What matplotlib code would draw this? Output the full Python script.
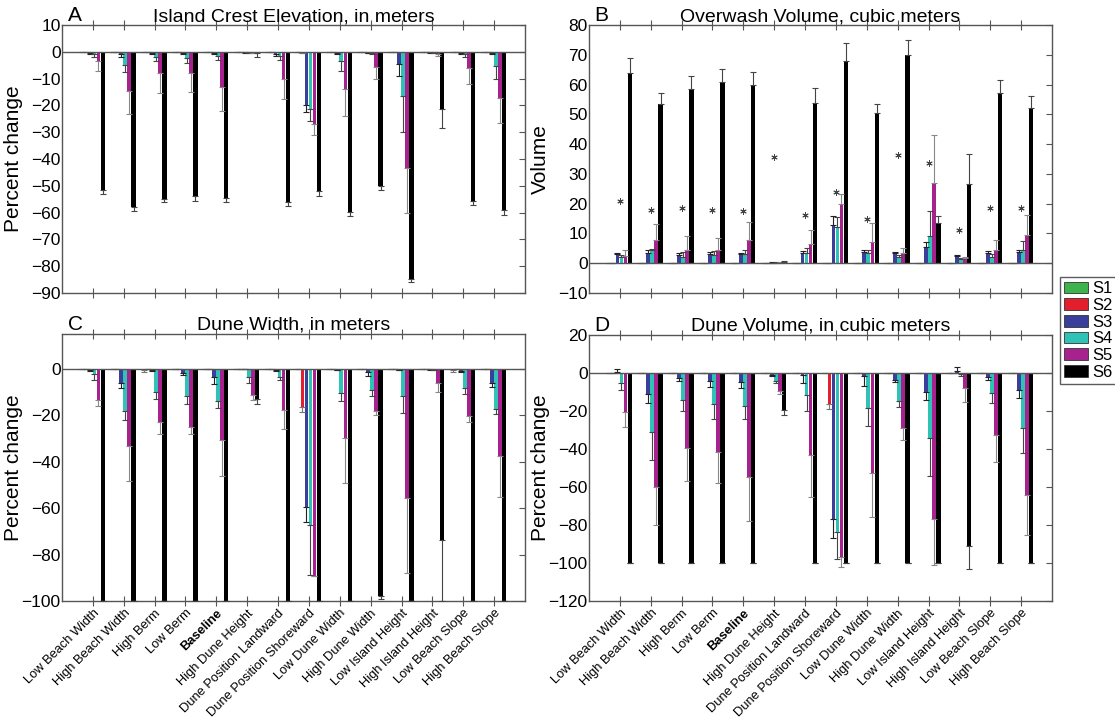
import numpy as np
import matplotlib
matplotlib.use("Agg")
import matplotlib.pyplot as plt
from matplotlib.patches import Patch

plt.rcParams['font.family'] = ['Liberation Sans', 'DejaVu Sans']

scenarios = ["Low Beach Width", "High Beach Width", "High Berm", "Low Berm",
             "Baseline", "High Dune Height", "Dune Position Landward",
             "Dune Position Shoreward", "Low Dune Width", "High Dune Width",
             "Low Island Height", "High Island Height", "Low Beach Slope",
             "High Beach Slope"]
series = ["S1", "S2", "S3", "S4", "S5", "S6"]
colors = ["#3cb44b", "#e31e2d", "#3b3f9c", "#2fc2b6", "#a8228f", "#000000"]

# island crest elevation, percent change (rows S1..S6)
crest_mean = [
    [0, 0, 0, 0, 0, 0, 0, 0, 0, 0, 0, 0, 0, 0],
    [0, 0, 0, 0, 0, 0, 0, -0.3, 0, 0, 0, 0, 0, 0],
    [-0.5, -1, -0.5, -0.5, -0.5, -0.2, -0.7, -20, -0.5, -0.3, -4.4, -0.2, -0.5, -0.5],
    [-1, -5, -2, -2.5, -1.5, -0.2, -1.5, -21.2, -3.4, -0.5, -16.5, -0.2, -1, -5.2],
    [-3.3, -14.7, -8, -8, -13, -0.3, -10.2, -27, -13.7, -5.5, -43.4, -1, -5.9, -17.1],
    [-51.5, -58, -55, -53.8, -54.5, -0.5, -56, -52, -59.9, -50, -84.6, -21.5, -55.6, -59.2],
]
crest_err = [
    [0] * 14,
    [0] * 14,
    [0.5, 1, 0.5, 0.5, 0.5, 0.3, 1, 2.5, 0.5, 0.3, 4.6, 0.3, 0.5, 0.5],
    [1, 2.5, 1.5, 1.5, 1.5, 0.3, 1.5, 4.8, 3.6, 0.5, 13.5, 0.3, 1, 4.8],
    [4, 8.5, 7.5, 7, 9, 0.3, 7.5, 4, 10.3, 4.5, 16.6, 0.5, 6, 9.4],
    [1.5, 1.5, 1.2, 1.7, 1.5, 1.5, 1.7, 1.7, 1.2, 1.5, 1.4, 7, 1.4, 1.6],
]

# overwash volume, cubic meters
overwash_mean = [
    [0] * 14,
    [0] * 14,
    [3, 3.5, 2.8, 3.2, 3, 0.2, 3.3, 12.7, 3.7, 3.5, 5.4, 2.5, 3.5, 3.8],
    [2.2, 4.3, 2.2, 2.8, 3, 0.2, 3.3, 12.1, 3.3, 2.2, 9.3, 1.5, 2.2, 4.3],
    [2.5, 7.8, 4.5, 4.5, 7.8, 0.2, 6.3, 19.8, 7.1, 3.5, 26.9, 1.6, 4.5, 9.6],
    [64, 53.5, 58.5, 60.8, 59.7, 0.3, 53.8, 68, 50.3, 69.8, 13.5, 26.5, 57, 52],
]
overwash_err = [
    [0] * 14,
    [0] * 14,
    [0.5, 1, 0.5, 0.7, 0.6, 0.1, 0.7, 3.3, 0.7, 0.3, 1.6, 0.2, 0.7, 0.5],
    [0.6, 0.5, 1.5, 1.3, 1.3, 0.1, 1.7, 3.5, 1.2, 0.5, 8.1, 0.3, 1.0, 3.2],
    [2, 5.5, 4.5, 4, 6.2, 0.1, 4.9, 3.5, 6.4, 1.5, 16.1, 0.5, 3.3, 6.6],
    [5, 3.5, 4.3, 4.5, 4.5, 0.3, 5.2, 6, 3.2, 5.2, 2.5, 10.3, 4.5, 4],
]
overwash_marks = [20.9, 17.8, 18.7, 17.8, 17.5, 35.6, 16.2, 24, 14.9, 36.2, 33.7, 11, 18.4, 18.4]

# dune width, percent change
width_mean = [
    [0, 0, -0.5, 0, 0, 0, 0, 0, 0, 0, 0, 0, -0.5, 0],
    [0, 0, 0, 0, 0, 0, 0, -16.4, 0, 0, 0, 0, 0, 0],
    [-0.5, -6.3, -0.5, -2, -3.5, 0, -0.5, -59.4, -0.3, -1.5, -0.3, -0.2, -1, -6],
    [-2.4, -18.3, -10, -11.8, -14, -3.5, -3.5, -67.3, -10.4, -9, -11.8, -0.3, -8.2, -17.3],
    [-13.5, -33.1, -23, -25, -30.8, -11.4, -17.9, -89.3, -29.8, -18, -55.5, -6, -20.2, -37.5],
    [-100, -100, -100, -100, -100, -12.8, -100, -100, -100, -98, -100, -73.8, -100, -100],
]
width_err = [
    [0, 0, 0.8, 0, 0, 0, 0, 0, 0, 0, 0, 0, 0.8, 0],
    [0, 0, 0, 0, 0, 0, 0, 2.1, 0, 0, 0, 0, 0, 0],
    [0.3, 2, 0.5, 0.5, 3, 0, 0.3, 6.5, 0.3, 1.5, 0.3, 0.3, 0.5, 2],
    [2.6, 3.7, 3, 3.2, 3, 2.5, 1.5, 21.7, 3.6, 2.5, 7.2, 0.3, 2.8, 2],
    [2.5, 15, 5, 3, 15.2, 2.1, 8.1, 0, 19.2, 2, 32.5, 4, 2.8, 17.5],
    [0, 0, 0, 0, 0, 2.2, 0, 0, 0, 1, 0, 26.2, 0, 0],
]

# dune volume, percent change
volume_mean = [
    [0] * 14,
    [0, 0, 0, 0, 0, 0, 0, -16.5, 0, 0, 0, 0, 0, 0],
    [0.5, -10.9, -2.5, -4, -4.7, -1, -1, -77, -1.8, -3.5, -10, 1, -2, -9],
    [-5.3, -31, -14, -16.5, -17.5, -4.2, -11.4, -83.7, -18.2, -14.7, -34, -0.5, -10.3, -29],
    [-20.5, -60, -39.5, -41.6, -54.7, -9.5, -43.3, -96.8, -52.6, -29, -77, -7.7, -32.8, -64],
    [-100, -100, -100, -100, -100, -19.6, -100, -100, -100, -100, -100, -91, -100, -100],
]
volume_err = [
    [0] * 14,
    [0, 0, 0, 0, 0, 0, 0, 2.5, 0, 0, 0, 0, 0, 0],
    [1.5, 5, 1.5, 3.5, 3.3, 0.5, 4.5, 10, 5.2, 1, 4, 2, 1.5, 4],
    [3.7, 15, 6, 7.5, 6.5, 1, 8.6, 14, 9.8, 3.3, 20, 1, 5.7, 13],
    [8, 20, 17.5, 16.4, 23.3, 1.5, 21.7, 5.2, 23.4, 6, 24, 7.3, 14.2, 21],
    [0, 0, 0, 0, 0, 2.4, 0, 0, 0, 0, 0, 12, 0, 0],
]

offsets = [-0.34, -0.21, -0.08, 0.05, 0.18, 0.32]
widths = [0.12, 0.12, 0.12, 0.12, 0.12, 0.14]
err_colors = ["#777777", "#777777", "#222222", "#444444", "#888888", "#444444"]

fig = plt.figure(figsize=(11.15, 7.21), dpi=100)
W, H = 1115.0, 721.0


def make_axes(x0, x1, y0, y1):
    return fig.add_axes([x0 / W, 1 - y1 / H, (x1 - x0) / W, (y1 - y0) / H])


def draw_panel(ax, means, errs, ylim, yticks, letter, title, ylabel, labels):
    x = np.arange(1, len(scenarios) + 1)
    for k in range(len(series)):
        m = np.array(means[k], dtype=float)
        e = np.array(errs[k], dtype=float)
        ax.bar(x + offsets[k], m, widths[k], color=colors[k], linewidth=0, zorder=2)
        lower = np.where(m < 0, e, 0)
        upper = np.where(m >= 0, e, 0)
        ax.errorbar(x + offsets[k], m, yerr=[lower, upper], fmt='none',
                    ecolor=err_colors[k], elinewidth=0.8, capsize=2.5,
                    capthick=0.8, zorder=3)
    ax.axhline(0, color="#555555", lw=1.0, zorder=4)
    ax.set_xlim(0, len(scenarios) + 1)
    ax.set_ylim(*ylim)
    ax.set_yticks(yticks)
    ax.set_xticks(x)
    for s in ax.spines.values():
        s.set_color("#555555")
        s.set_linewidth(1.0)
    ax.tick_params(axis='y', which='both', left=False, right=True, direction='in',
                   length=4, color="#555555", labelsize=12.5, pad=1)
    ax.tick_params(axis='x', which='both', bottom=True, top=True, direction='inout',
                   length=7, color="#555555", labelsize=9.3, pad=1)
    if labels:
        ax.set_xticklabels(scenarios, rotation=45, ha='right', rotation_mode='anchor')
        for t in ax.get_xticklabels():
            if t.get_text() == "Baseline":
                t.set_fontweight('bold')
    else:
        ax.set_xticklabels([])
    ax.set_ylabel(ylabel, fontsize=15)
    ax.yaxis.set_label_coords(-0.085, 0.5)
    ax.set_title(title, fontsize=14, pad=2)
    ax.text(0.012, 1.0, letter, transform=ax.transAxes, fontsize=15,
            ha='left', va='bottom')


axA = make_axes(62, 525, 25, 293)
draw_panel(axA, crest_mean, crest_err, (-90, 10), np.arange(-90, 11, 10), "A",
           "Island Crest Elevation, in meters", "Percent change", False)

axB = make_axes(589, 1052, 25, 293)
draw_panel(axB, overwash_mean, overwash_err, (-10, 80), np.arange(-10, 81, 10), "B",
           "Overwash Volume, cubic meters", "Volume", False)
axB.scatter(np.arange(1, len(scenarios) + 1), overwash_marks, marker=(6, 2, 0),
            s=16, color="#444444", linewidths=0.7, zorder=5)

axC = make_axes(62, 525, 334, 601)
draw_panel(axC, width_mean, width_err, (-100, 15), np.arange(-100, 1, 20), "C",
           "Dune Width, in meters", "Percent change", True)

axD = make_axes(589, 1052, 335, 601)
draw_panel(axD, volume_mean, volume_err, (-120, 20), np.arange(-120, 21, 20), "D",
           "Dune Volume, in cubic meters", "Percent change", True)

handles = [Patch(facecolor=c, edgecolor="#333333", linewidth=0.6) for c in colors]
leg = fig.legend(handles, series, loc='upper left',
                 bbox_to_anchor=(1060 / W, 1 - 277 / H), fontsize=12,
                 frameon=True, fancybox=False, edgecolor="#333333",
                 handlelength=1.4, handleheight=0.7, handletextpad=0.3,
                 borderpad=0.25, labelspacing=0.1, borderaxespad=0)
leg.get_frame().set_linewidth(1.0)

fig.savefig("out.png", dpi=100)
